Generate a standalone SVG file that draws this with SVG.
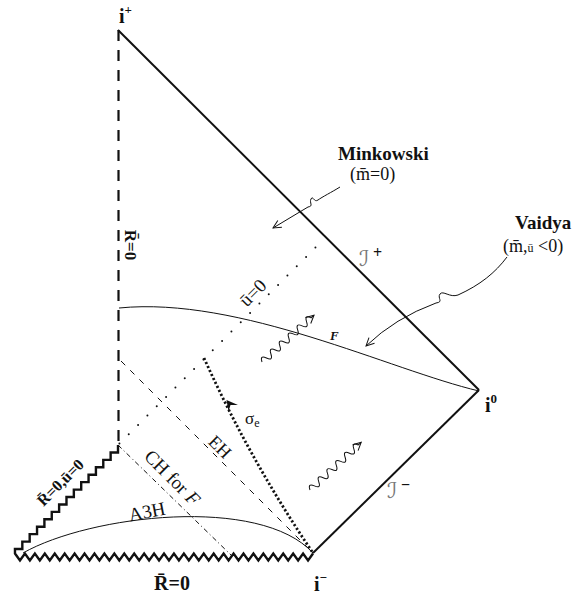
<svg xmlns="http://www.w3.org/2000/svg" width="585" height="596" viewBox="0 0 585 596">
<defs>
<style>
text { font-family: "Liberation Serif", "Times New Roman", serif; fill: #111; }
.b { font-weight: bold; }
.edge { stroke: #111; stroke-width: 2; fill: none; }
.thin { stroke: #111; stroke-width: 1; fill: none; }
.scri { font-family: "DejaVu Serif", "DejaVu Sans", serif; font-style: italic; fill: #777; }
</style>
<marker id="vArrow" viewBox="0 0 12 12" markerWidth="12" markerHeight="12" refX="10" refY="6" orient="auto" markerUnits="userSpaceOnUse">
<path d="M2,2 L10,6 L2,10" fill="none" stroke="#111" stroke-width="1"/>
</marker>
<path id="wave" d="M0,0 q3,-7 6,0 t6,0 t6,0 t6,0 t6,0 t6,0 t6,0 t6,0 t6,0 t6,0 t6,0 l4,0" fill="none" stroke="#111" stroke-width="1" marker-end="url(#vArrow)"/>
</defs>
<rect width="585" height="596" fill="#fff"/>

<g id="boundaries">
<line class="edge" x1="118" y1="30" x2="479" y2="390"/>
<line class="edge" x1="313" y1="553" x2="479" y2="390"/>
<line x1="118.5" y1="30" x2="118.5" y2="445" stroke="#111" stroke-width="2.2" stroke-dasharray="11 9"/>
<path id="singularity" d="M118,445 v7.43h-7.36 v7.43h-7.36 v7.43h-7.36 v7.43h-7.36 v7.43h-7.36 v7.43h-7.36 v7.43h-7.36 v7.43h-7.36 v7.43h-7.36 v7.43h-7.36 v7.43h-7.36 v7.43h-7.36 v7.43h-7.36 v7.43h-7.36 L15,553.5 l4.967,7 l4.967,-7 l4.967,7 l4.967,-7 l4.967,7 l4.967,-7 l4.967,7 l4.967,-7 l4.967,7 l4.967,-7 l4.967,7 l4.967,-7 l4.967,7 l4.967,-7 l4.967,7 l4.967,-7 l4.967,7 l4.967,-7 l4.967,7 l4.967,-7 l4.967,7 l4.967,-7 l4.967,7 l4.967,-7 l4.967,7 l4.967,-7 l4.967,7 l4.967,-7 l4.967,7 l4.967,-7 l4.967,7 l4.967,-7 l4.967,7 l4.967,-7 l4.967,7 l4.967,-7 l4.967,7 l4.967,-7 l4.967,7 l4.967,-7 l4.967,7 l4.967,-7 l4.967,7 l4.967,-7 l4.967,7 l4.967,-7 l4.967,7 l4.967,-7 l4.967,7 l4.967,-7 l4.967,7 l4.967,-7 l4.967,7 l4.967,-7 l4.967,7 l4.967,-7 l4.967,7 l4.967,-7 l4.967,7 l4.967,-7" fill="none" stroke="#111" stroke-width="2.4" stroke-linejoin="miter"/>
</g>

<g id="connectors">
<line id="u0" x1="118" y1="445" x2="316" y2="247" stroke="#111" stroke-width="2" stroke-linecap="round" stroke-dasharray="0 13.2" stroke-dashoffset="-2"/>
<line id="EH" x1="121" y1="361" x2="313" y2="553" stroke="#111" stroke-width="1" stroke-dasharray="6 7"/>
<line id="CH" x1="118" y1="445" x2="232" y2="556" stroke="#111" stroke-width="1" stroke-dasharray="5 3 1 3"/>
<path id="Fcurve" class="thin" d="M119,308 C240,296 390,370 479,391"/>
<path id="A3Hcurve" class="thin" d="M23,553 C90,515 260,495 313,553"/>
<path id="sigma" d="M204,358 Q250,460 313,553" fill="none" stroke="#111" stroke-width="2.8" stroke-dasharray="2.2 2.2"/>
<polygon points="226.5,400 228.5,411.5 230.5,405 238,405" fill="#111"/>
<path class="thin" d="M340,187 C332,192 322,197 318,200 C314,203 313,195 311,199 C309,203 314,206 308,207 L273,228" marker-end="url(#vArrow)"/>
<path class="thin" d="M507,257 C495,273 480,285 458,295 C450,298 443,290 440,294 C437,298 444,302 436,303 Q395,318 366,346" marker-end="url(#vArrow)"/>
<use href="#wave" transform="translate(262,362) rotate(-42)"/>
<use href="#wave" transform="translate(310,490) rotate(-43)"/>
</g>

<g id="labels">
<text class="b" x="119" y="23" font-size="20">i<tspan dy="-9" font-size="13">+</tspan></text>
<text class="b" x="485" y="412" font-size="20">i<tspan dy="-9" font-size="13">0</tspan></text>
<text class="b" x="314" y="591" font-size="20">i<tspan dy="-9" font-size="13">−</tspan></text>
<text class="b" x="172" y="590" font-size="20" text-anchor="middle">R&#x304;=0</text>
<text class="b" font-size="17" text-anchor="middle" transform="translate(131,245) rotate(90)" y="6">R&#x304;=0</text>
<text class="b" font-size="16" text-anchor="middle" transform="translate(60,482) rotate(-45)" y="6">R&#x304;=0,ū=0</text>
<text font-size="19" text-anchor="middle" transform="translate(253,293) rotate(-45)" y="6">ū=0</text>
<text font-size="18" text-anchor="middle" transform="translate(220,447) rotate(45)" y="6">EH</text>
<text font-size="19" text-anchor="middle" transform="translate(172,478) rotate(45)" y="6">CH for <tspan font-style="italic">F</tspan></text>
<text font-size="19" text-anchor="middle" transform="translate(147,512) rotate(-11)" y="6">A3H</text>
<text x="245" y="424" font-size="17">σ<tspan dy="3" font-size="12">e</tspan></text>
<text class="b" x="330" y="340" font-size="13" font-style="italic">F</text>
<text class="scri" x="359" y="266" font-size="22">ℐ</text><text class="b" x="373" y="258" font-size="16">+</text>
<text class="scri" x="387" y="498" font-size="22">ℐ</text><text class="b" x="401" y="490" font-size="16">−</text>
<g id="minkowski">
<text class="b" x="338" y="160" font-size="19">Minkowski</text>
<text x="350" y="180" font-size="18">(m&#x304;=0)</text>
</g>
<g id="vaidya">
<text class="b" x="515" y="229" font-size="19">Vaidya</text>
<text x="503" y="252" font-size="18">(m&#x304;,<tspan font-size="12">ū</tspan> &lt;0)</text>
</g>
</g>
</svg>
